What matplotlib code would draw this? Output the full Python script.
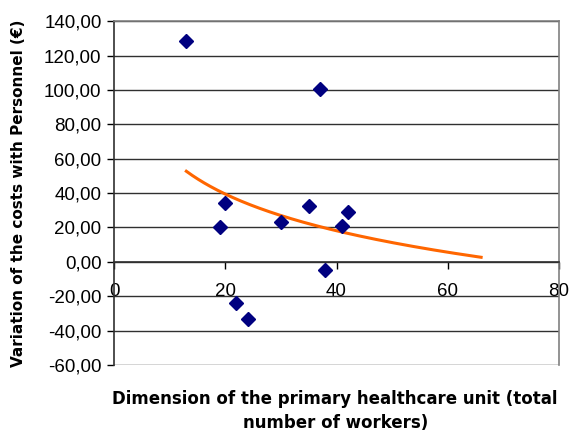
import numpy as np
import matplotlib
matplotlib.use("Agg")
import matplotlib.pyplot as plt
from matplotlib.ticker import FuncFormatter

plt.rcParams["font.family"] = ["Liberation Sans", "DejaVu Sans"]

# scatter data
unit_size = [13, 19, 20, 22, 24, 30, 35, 37, 38, 41, 42]
cost_var = [128.4, 20.0, 34.4, -24.0, -33.3, 23.0, 32.5, 100.6, -4.7, 21.1, 28.8]
trend_end = 66  # the trend line is extended forward to here

# logarithmic trend line, fitted to the points
a, b = np.polyfit(np.log(unit_size), cost_var, 1)
tx = np.linspace(min(unit_size), trend_end, 200)
ty = a * np.log(tx) + b

fig = plt.figure(figsize=(5.69, 4.32), dpi=100)
ax = fig.add_axes([0.2004, 0.155, 0.782, 0.796])

ax.set_xlim(0, 80)
ax.set_ylim(-60, 140)
ax.set_xticks([0, 20, 40, 60, 80])
ax.set_yticks(np.arange(-60, 141, 20))
ax.yaxis.set_major_formatter(FuncFormatter(lambda v, p: f"{v:.2f}".replace(".", ",")))

ax.grid(axis="y", color="#303030", lw=1)
ax.set_axisbelow(True)

ax.plot(tx, ty, color="#ff6600", lw=2.2, zorder=2)
ax.plot(unit_size, cost_var, "D", color="#000080", ms=7.5, mec="#000080", zorder=3)

ax.spines["bottom"].set_position(("data", 0))
ax.spines["bottom"].set_color("#303030")
ax.spines["left"].set_color("#303030")
ax.spines["top"].set_color("#808080")
ax.spines["right"].set_color("#808080")
for s in ax.spines.values():
    s.set_linewidth(1.2)

ax.tick_params(axis="y", direction="out", length=5, width=1, labelsize=13.5, pad=4)
ax.tick_params(axis="x", direction="out", length=5, width=1, labelsize=13.5, pad=10)

ax.set_ylabel("Variation of the costs with Personnel (€)", family="DejaVu Sans",
              fontsize=11, fontweight="bold")
ax.yaxis.set_label_coords(-0.198, 0.5)
fig.text(0.589, 0.0, "Dimension of the primary healthcare unit (total\nnumber of workers)",
         ha="center", va="bottom", linespacing=1.45, family="DejaVu Sans",
         fontsize=12, fontweight="bold")

fig.savefig("out.png", dpi=100)
